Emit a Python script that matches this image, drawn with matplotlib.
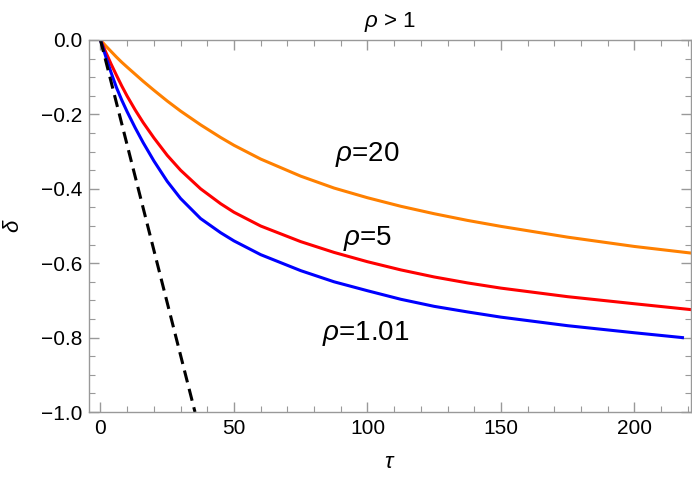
import matplotlib
matplotlib.use('Agg')
import matplotlib.pyplot as plt
from matplotlib.ticker import MultipleLocator, FuncFormatter

plt.rcParams['font.family'] = ['Liberation Sans', 'DejaVu Sans']
plt.rcParams['mathtext.fontset'] = 'custom'
plt.rcParams['mathtext.rm'] = 'Liberation Sans'
plt.rcParams['mathtext.it'] = 'Liberation Sans:italic'

# values
tau = [0, 2, 4, 6, 8, 10, 13, 16, 20, 25, 30, 37.5, 45, 50, 60, 75, 87.5,
       100, 112.5, 125, 137.5, 150, 175, 200, 221.5]
delta_rho20 = [0, -0.016, -0.031, -0.046, -0.060, -0.073, -0.092, -0.111, -0.135,
               -0.164, -0.191, -0.228, -0.262, -0.283, -0.320, -0.366, -0.398,
               -0.424, -0.447, -0.467, -0.485, -0.501, -0.530, -0.555, -0.573]
delta_rho5 = [0, -0.033, -0.065, -0.095, -0.124, -0.151, -0.188, -0.222, -0.263,
              -0.310, -0.350, -0.400, -0.440, -0.463, -0.500, -0.542, -0.571,
              -0.596, -0.618, -0.637, -0.653, -0.667, -0.690, -0.709, -0.725]
tau_blue = [0, 2, 4, 6, 8, 10, 13, 16, 20, 25, 30, 37.5, 45, 50, 60, 75, 87.5,
            100, 112.5, 125, 137.5, 150, 175, 200, 218]
delta_rho101 = [0, -0.045, -0.088, -0.128, -0.162, -0.193, -0.236, -0.276, -0.325,
                -0.380, -0.426, -0.480, -0.518, -0.540, -0.577, -0.620, -0.650,
                -0.674, -0.697, -0.716, -0.731, -0.745, -0.768, -0.787, -0.800]
tau_limit = [0, 35.4]
delta_limit = [0, -1.0]

fig = plt.figure(figsize=(6.92, 4.78), dpi=100)
ax = fig.add_axes([89/692, 66/478, 602/692, 372/478])

ax.plot(tau, delta_rho20, color='#ff8000', lw=2.2)
ax.plot(tau, delta_rho5, color='#ff0000', lw=2.2)
ax.plot(tau_blue, delta_rho101, color='#0000ff', lw=2.2)
ax.plot(tau_limit, delta_limit, color='black', lw=2.2, linestyle=(0, (4, 2.2)))

ax.text(100, -0.309, r'$\rho$=20', fontsize=20, ha='center', va='center')
ax.text(100, -0.533, r'$\rho$=5', fontsize=20, ha='center', va='center')
ax.text(99.5, -0.788, r'$\rho$=1.01', fontsize=20, ha='center', va='center')

ax.set_xlim(-4.3, 221.2)
ax.set_ylim(-1.0, 0.0)
ax.xaxis.set_major_locator(MultipleLocator(50))
ax.xaxis.set_minor_locator(MultipleLocator(10))
ax.yaxis.set_major_locator(MultipleLocator(0.2))
ax.yaxis.set_minor_locator(MultipleLocator(0.05))
ax.yaxis.set_major_formatter(FuncFormatter(lambda v, p: f'{v:.1f}'.replace('-', '\u2212')))

for s in ax.spines.values():
    s.set_color('#999999')
    s.set_linewidth(1.0)
ax.tick_params(which='both', direction='in', top=True, right=True, color='#999999',
               labelsize=15, labelcolor='black')
ax.tick_params(which='major', length=7, width=1.0, pad=5)
ax.tick_params(which='minor', length=4, width=0.8)

ax.set_xlabel(r'$\tau$', fontsize=16, labelpad=10)
ax.set_ylabel(r'$\delta$', fontsize=16, labelpad=12)
ax.set_title(r'$\rho$ > 1', fontsize=16, pad=9)

fig.savefig('out.png', dpi=100)
